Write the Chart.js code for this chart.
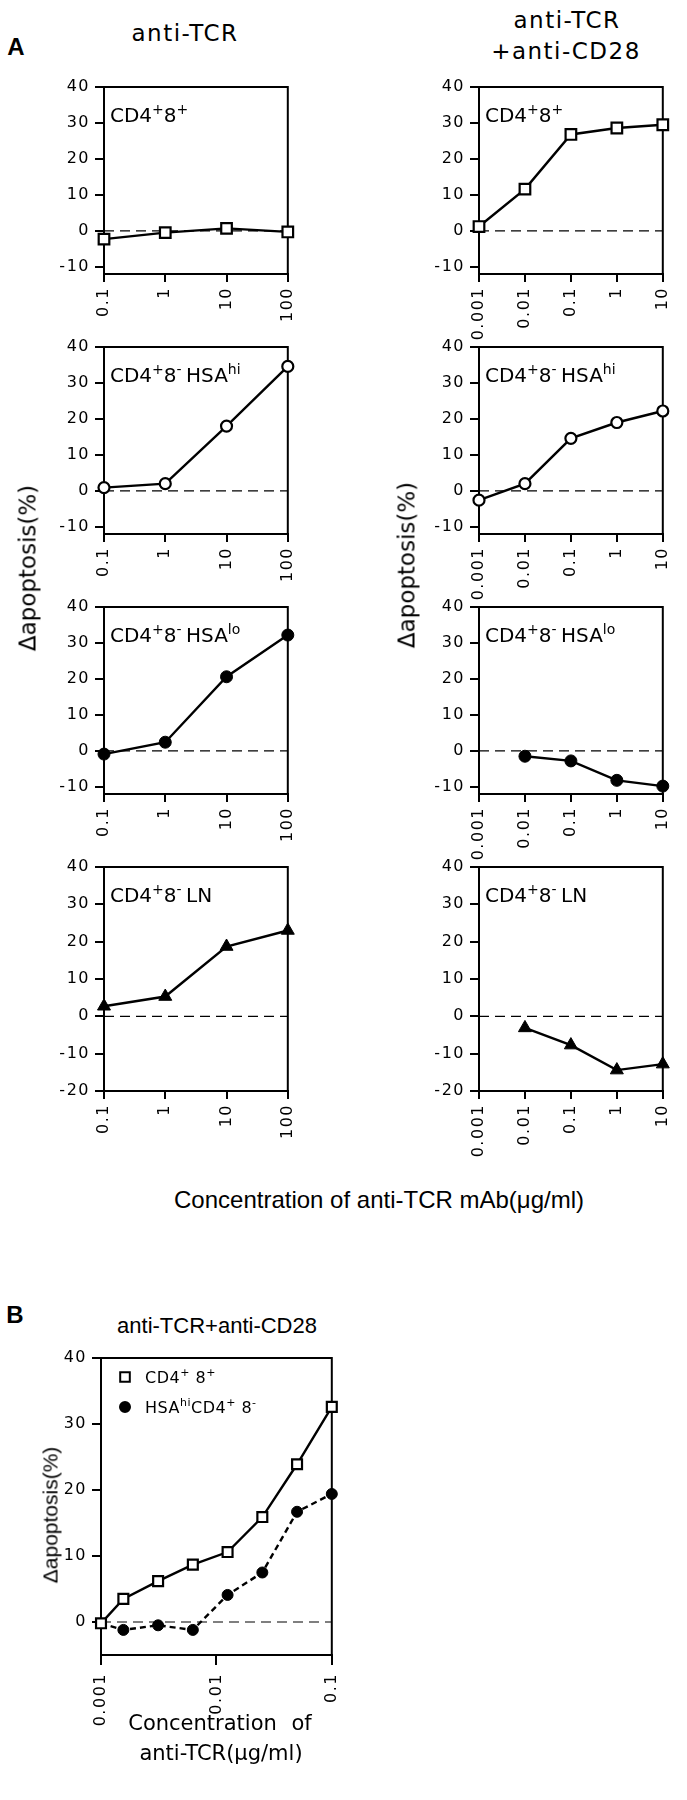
<!DOCTYPE html>
<html>
<head>
<meta charset="utf-8">
<script src="https://cdn.jsdelivr.net/npm/chart.js@4.4.0/dist/chart.umd.min.js"></script>
<style>
    body { margin: 0; background: #fff; }
    #page { position: relative; width: 687px; height: 1800px; background: #fff; overflow: hidden; }
    canvas { position: absolute; }
    .t { position: absolute; white-space: nowrap; color: #000; line-height: 1; transform: translate(-50%, -50%); z-index: 5; }
    .rot { transform: translate(-50%, -50%) rotate(-90deg); }
    .geneva { font-family: "DejaVu Sans", sans-serif; }
    .helv { font-family: "Liberation Sans", Arial, sans-serif; }
</style>
</head>
<body>
<div id="page">
    <div class="t helv" style="left:16px;top:47px;font-size:24px;font-weight:bold">A</div>
    <div class="t geneva" style="left:185px;top:33px;font-size:23px;letter-spacing:1.5px">anti-TCR</div>
    <div class="t geneva" style="left:567px;top:20px;font-size:23px;letter-spacing:1.5px">anti-TCR</div>
    <div class="t geneva" style="left:566px;top:51px;font-size:23px;letter-spacing:1.5px">+anti-CD28</div>
    <div class="t geneva rot" style="left:28px;top:568px;font-size:23px">Δapoptosis(%)</div>
    <div class="t geneva rot" style="left:407px;top:565px;font-size:23px">Δapoptosis(%)</div>
    <div class="t helv" style="left:379px;top:1200px;font-size:24px">Concentration of anti-TCR mAb(μg/ml)</div>

    <div class="t helv" style="left:15px;top:1315px;font-size:24px;font-weight:bold">B</div>
    <div class="t helv" style="left:217px;top:1326px;font-size:22px">anti-TCR+anti-CD28</div>
    <div class="t helv rot" style="left:50px;top:1515px;font-size:21px">Δapoptosis(%)</div>
    <div class="t geneva" style="left:220px;top:1723px;font-size:21px;word-spacing:8px">Concentration of</div>
    <div class="t geneva" style="left:221px;top:1753px;font-size:21px">anti-TCR(μg/ml)</div>
</div>
<script>
    // concentraciones (ug/ml)
    const xAntiTCR = [0.1, 1, 10, 100];
    const xCombo = [0.001, 0.01, 0.1, 1, 10];
    const xComboLate = [0.01, 0.1, 1, 10];
    const xB = [0.001, 0.0015625, 0.003125, 0.00625, 0.0125, 0.025, 0.05, 0.1];

    // ticks
    const yTicksA = [-10, 0, 10, 20, 30, 40];
    const yTicksLN = [-20, -10, 0, 10, 20, 30, 40];
    const yTicksB = [0, 10, 20, 30, 40];
    const xTicksB = [0.001, 0.01, 0.1];

    // delta apoptosis (%) panel A
    const dpAntiTCR = [-2.3, -0.5, 0.7, -0.3];
    const dpCombo = [1.2, 11.6, 26.8, 28.6, 29.5];
    const hiAntiTCR = [0.9, 2.0, 18.0, 34.6];
    const hiCombo = [-2.6, 2.0, 14.6, 19.0, 22.2];
    const loAntiTCR = [-0.9, 2.4, 20.6, 32.2];
    const loCombo = [-1.5, -2.8, -8.2, -9.8];
    const lnAntiTCR = [2.7, 5.3, 18.7, 23.0];
    const lnCombo = [-3.1, -7.7, -14.4, -12.8];

    // panel B
    const bDP = [-0.2, 3.5, 6.2, 8.7, 10.6, 15.9, 23.9, 32.6];
    const bHi = [-0.2, -1.2, -0.5, -1.2, 4.1, 7.5, 16.7, 19.4];

    const page = document.getElementById("page");
    const tickFont = { family: "DejaVu Sans", size: 16 };

    // Estilos de marcadores
    const square = { pointStyle: "rect", pointRadius: 7.5, pointBackgroundColor: "#fff", pointBorderColor: "#000", pointBorderWidth: 2.2 };
    const openCircle = { pointStyle: "circle", pointRadius: 5.5, pointBackgroundColor: "#fff", pointBorderColor: "#000", pointBorderWidth: 2.2 };
    const dot = { pointStyle: "circle", pointRadius: 6, pointBackgroundColor: "#000", pointBorderColor: "#000", pointBorderWidth: 1 };
    const triangle = { pointStyle: "triangle", pointRadius: 7.5, pointBackgroundColor: "#000", pointBorderColor: "#000", pointBorderWidth: 1 };

    function drawRich(ctx, str, x, y, size, family) {
        const parts = str.split(/(\^\{[^}]*\})/).filter(Boolean);
        ctx.fillStyle = "#000";
        ctx.textAlign = "left";
        ctx.textBaseline = "alphabetic";
        for (const p of parts) {
            const sup = p.startsWith("^{");
            const t = sup ? p.slice(2, -1) : p;
            ctx.font = (sup ? Math.round(size * 0.68) : size) + "px " + family;
            ctx.fillText(t, x, sup ? y - size * 0.42 : y);
            x += ctx.measureText(t).width;
        }
    }

    // caja completa alrededor del area; numeros espaciados como en el original
    const boxPlugin = {
        id: "box",
        beforeDraw(chart) {
            chart.ctx.letterSpacing = "1.5px";
        },
        beforeDatasetsDraw(chart) {
            const a = chart.chartArea, ctx = chart.ctx;
            ctx.save();
            ctx.strokeStyle = "#000";
            ctx.lineWidth = 2;
            ctx.strokeRect(a.left, a.top, a.right - a.left, a.bottom - a.top);
            ctx.restore();
        }
    };

    const labelPlugin = {
        id: "panelText",
        afterDraw(chart, args, opts) {
            const a = chart.chartArea, ctx = chart.ctx;
            ctx.save();
            ctx.letterSpacing = "0px";
            if (opts.label) drawRich(ctx, opts.label, a.left + 6, a.top + 35, 20, "DejaVu Sans");
            if (opts.legend) {
                opts.legend.forEach((item, i) => {
                    const cx = a.left + 24, cy = a.top + 19 + i * 30;
                    ctx.lineWidth = 2;
                    ctx.strokeStyle = "#000";
                    ctx.fillStyle = item.marker === "square" ? "#fff" : "#000";
                    ctx.beginPath();
                    if (item.marker === "square") ctx.rect(cx - 4.8, cy - 4.8, 9.6, 9.6);
                    else ctx.arc(cx, cy, 5, 0, Math.PI * 2);
                    ctx.fill();
                    ctx.stroke();
                    ctx.letterSpacing = "0.5px";
                    drawRich(ctx, item.text, a.left + 44, cy + 6, 16, "DejaVu Sans");
                    ctx.letterSpacing = "0px";
                });
            }
            ctx.restore();
        }
    };

    function line(xs, ys, marker, extra) {
        return Object.assign({
            data: xs.map((x, i) => ({ x: x, y: ys[i] })),
            borderColor: "#000",
            borderWidth: 2.4,
            tension: 0,
            fill: false,
            clip: false
        }, marker, extra || {});
    }

    function zeroLine(xMin, xMax) {
        return {
            data: [{ x: xMin, y: 0 }, { x: xMax, y: 0 }],
            borderColor: "#000",
            borderWidth: 1.2,
            borderDash: [10, 6],
            pointRadius: 0,
            fill: false
        };
    }

    function panel(p) {
        const L = 70, T = 20, R = 20, B = 80;
        const cv = document.createElement("canvas");
        cv.width = p.w + L + R;
        cv.height = p.h + T + B;
        cv.style.left = (p.left - L) + "px";
        cv.style.top = (p.top - T) + "px";
        page.appendChild(cv);

        new Chart(cv.getContext("2d"), {
            type: "line",
            data: { datasets: p.datasets.concat([zeroLine(p.xMin, p.xMax)]) },
            options: {
                responsive: false,
                animation: false,
                layout: { padding: { left: 0, top: T, right: R, bottom: 0 } },
                plugins: {
                    legend: { display: false },
                    tooltip: { enabled: false },
                    panelText: { label: p.label, legend: p.legend }
                },
                scales: {
                    x: {
                        type: "logarithmic",
                        min: p.xMin,
                        max: p.xMax,
                        afterBuildTicks: (s) => { s.ticks = p.xTicks.map((v) => ({ value: v })); },
                        afterFit: (s) => { s.height = B; },
                        ticks: {
                            autoSkip: false, minRotation: 90, maxRotation: 90,
                            padding: p.xPad || 5, color: "#000", font: tickFont,
                            callback: (v) => String(v)
                        },
                        grid: { drawOnChartArea: false, drawTicks: true, tickLength: p.xTick || 8, color: "#000", lineWidth: 2 },
                        border: { display: true, color: "#000", width: 2 }
                    },
                    y: {
                        min: p.yMin,
                        max: p.yMax,
                        afterBuildTicks: (s) => { s.ticks = p.yTicks.map((v) => ({ value: v })); },
                        afterFit: (s) => { s.width = L; },
                        ticks: { padding: 5, color: "#000", font: tickFont, callback: (v) => String(v) },
                        grid: { drawOnChartArea: false, drawTicks: true, tickLength: 9, color: "#000", lineWidth: 2 },
                        border: { display: true, color: "#000", width: 2 }
                    }
                }
            },
            plugins: [boxPlugin, labelPlugin]
        });
    }

    const colLeft = 104, colRight = 479, rowTops = [87, 347, 607, 867];
    const leftCol = { left: colLeft, w: 188, xMin: 0.1, xMax: 100, xTicks: xAntiTCR };
    const rightCol = { left: colRight, w: 188, xMin: 0.001, xMax: 10, xTicks: xCombo };
    const shortRow = { h: 187, yMin: -12, yMax: 40, yTicks: yTicksA };
    const lnRow = { h: 224, yMin: -20, yMax: 40, yTicks: yTicksLN };

    const labels = ["CD4^{+}8^{+}", "CD4^{+}8^{- }HSA^{hi}", "CD4^{+}8^{- }HSA^{lo}", "CD4^{+}8^{- }LN"];

    panel(Object.assign({}, leftCol, shortRow, { top: rowTops[0], label: labels[0], datasets: [line(xAntiTCR, dpAntiTCR, square)] }));
    panel(Object.assign({}, rightCol, shortRow, { top: rowTops[0], label: labels[0], datasets: [line(xCombo, dpCombo, square)] }));
    panel(Object.assign({}, leftCol, shortRow, { top: rowTops[1], label: labels[1], datasets: [line(xAntiTCR, hiAntiTCR, openCircle)] }));
    panel(Object.assign({}, rightCol, shortRow, { top: rowTops[1], label: labels[1], datasets: [line(xCombo, hiCombo, openCircle)] }));
    panel(Object.assign({}, leftCol, shortRow, { top: rowTops[2], label: labels[2], datasets: [line(xAntiTCR, loAntiTCR, dot)] }));
    panel(Object.assign({}, rightCol, shortRow, { top: rowTops[2], label: labels[2], datasets: [line(xComboLate, loCombo, dot)] }));
    panel(Object.assign({}, leftCol, lnRow, { top: rowTops[3], label: labels[3], datasets: [line(xAntiTCR, lnAntiTCR, triangle)] }));
    panel(Object.assign({}, rightCol, lnRow, { top: rowTops[3], label: labels[3], datasets: [line(xComboLate, lnCombo, triangle)] }));

    // Panel B
    panel({
        left: 101, top: 1358, w: 238, h: 297,
        xMin: 0.001, xMax: 0.1, xTicks: xTicksB, xTick: 10, xPad: 8,
        yMin: -5, yMax: 40, yTicks: yTicksB,
        legend: [
            { marker: "square", text: "CD4^{+} 8^{+}" },
            { marker: "dot", text: "HSA^{hi}CD4^{+} 8^{-}" }
        ],
        datasets: [
            line(xB, bDP, Object.assign({}, square, { pointRadius: 7 })),
            line(xB, bHi, Object.assign({}, dot, { pointRadius: [0, 5.5, 5.5, 5.5, 5.5, 5.5, 5.5, 5.5] }), { borderDash: [6, 4] })
        ]
    });
</script>
</body>
</html>
